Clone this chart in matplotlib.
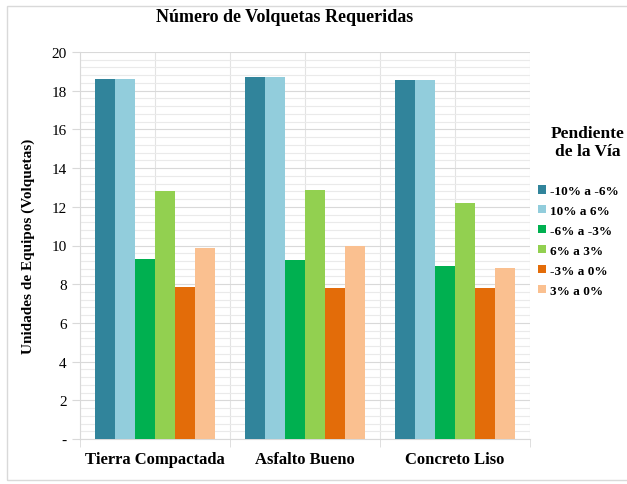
import matplotlib
matplotlib.use("Agg")
import matplotlib.pyplot as plt
from matplotlib.patches import Rectangle
from matplotlib.ticker import MultipleLocator, FuncFormatter
import numpy as np

plt.rcParams['font.family'] = ['Liberation Serif', 'DejaVu Serif']

categorias = ['Tierra Compactada', 'Asfalto Bueno', 'Concreto Liso']
series = ['-10% a -6%', '10% a 6%', '-6% a -3%', '6% a 3%', '-3% a 0%', '3% a 0%']
valores = [
    [18.6, 18.7, 18.55],
    [18.6, 18.7, 18.55],
    [9.3, 9.25, 8.95],
    [12.8, 12.85, 12.2],
    [7.85, 7.8, 7.8],
    [9.85, 9.95, 8.85],
]
colores = ['#31849B', '#92CDDC', '#00B050', '#92D050', '#E36C09', '#FAC090']

fig = plt.figure(figsize=(6.27, 4.85), dpi=100)
ax = fig.add_axes([80/627, 1 - 440/485, 450/627, 387/485])

# chart border
fig.patches.append(Rectangle((7/627, 4/485), 625/627, 474/485, transform=fig.transFigure,
                             fill=False, edgecolor='#D9D9D9', linewidth=1))

x = np.arange(len(categorias))
ancho = 0.8 / len(series)
for i, (s, v, c) in enumerate(zip(series, valores, colores)):
    ax.bar(x - 0.4 + ancho * (i + 0.5), v, width=ancho, color=c, label=s, zorder=3)

ax.set_xlim(-0.5, 2.5)
ax.set_ylim(0, 20)
ax.yaxis.set_major_locator(MultipleLocator(2))
ax.yaxis.set_minor_locator(MultipleLocator(0.4))
ax.yaxis.set_major_formatter(FuncFormatter(lambda v, p: '-' if v == 0 else f'{v:.0f}'))
ax.grid(which='major', axis='y', color='#D9D9D9', linewidth=0.8, zorder=0)
ax.grid(which='minor', axis='y', color='#EAEAEA', linewidth=0.8, zorder=0)
for xv in np.arange(-0.5, 2.6, 0.5):
    ax.axvline(xv, color='#E3E3E3', linewidth=0.8, zorder=0)

ax.set_xticks(x)
ax.set_xticklabels(categorias, fontsize=12, fontweight='bold')
ax.tick_params(axis='x', length=0, pad=9)
ax.set_xticks([-0.5, 0.5, 1.5, 2.5], minor=True)
ax.tick_params(axis='x', which='minor', length=6, color='#D9D9D9')
ax.tick_params(axis='y', which='major', labelsize=11, length=6, color='#D9D9D9')
ax.tick_params(axis='y', which='minor', length=0)
for side in ['top', 'right']:
    ax.spines[side].set_visible(False)
ax.spines['left'].set_color('#D9D9D9')
ax.spines['bottom'].set_color('#D9D9D9')

ax.set_ylabel('Unidades de Equipos (Volquetas)', fontsize=11, fontweight='bold', labelpad=12)
fig.text(285/627, 1 - 18/485, 'Número de Volquetas Requeridas', ha='center', va='center',
         fontsize=13, fontweight='bold')

fig.text(588/627, 1 - 143/485, 'Pendiente\nde la Vía', ha='center', va='center',
         fontsize=12.5, fontweight='bold', linespacing=1.1)
leg = fig.legend(loc='upper left', bbox_to_anchor=(538/627, 1 - 186/485), frameon=False,
                 prop={'weight': 'bold', 'size': 9.5}, handlelength=0.6, handleheight=0.6,
                 handletextpad=0.3, labelspacing=0.6, borderaxespad=0, borderpad=0)

fig.savefig('out.png', dpi=100)
